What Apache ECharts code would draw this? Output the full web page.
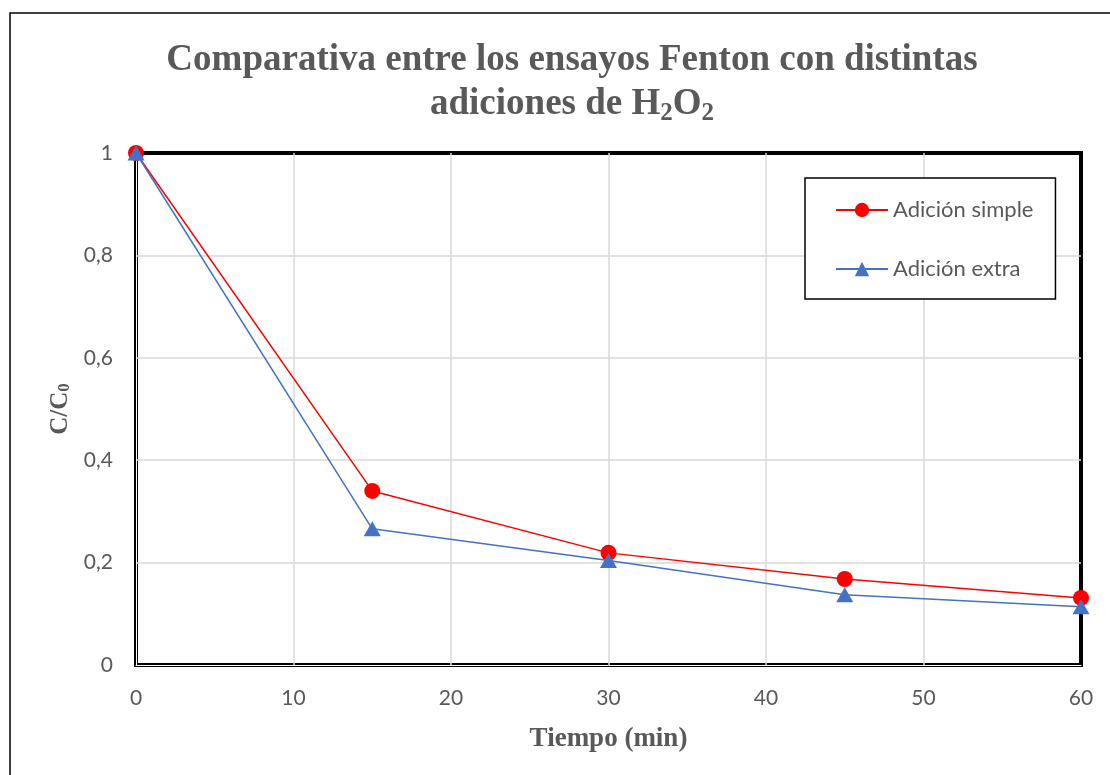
<!DOCTYPE html>
<html>
<head>
<meta charset="utf-8">
<script src="https://cdn.jsdelivr.net/npm/echarts@6/dist/echarts.min.js"></script>
<style>html,body{margin:0;padding:0;background:#fff}#c{width:1110px;height:775px}</style>
</head>
<body>
<div id="c"></div>
<script>
const tiempo = [0, 15, 30, 45, 60];
const simple = [1, 0.340, 0.219, 0.168, 0.131];
const extra = [1, 0.266, 0.204, 0.137, 0.114];
const seriesNames = ['Adición simple', 'Adición extra'];
const xTicks = [0, 10, 20, 30, 40, 50, 60];
const yTicks = [0, 0.2, 0.4, 0.6, 0.8, 1];

const chart = echarts.init(document.getElementById('c'));
const serif = 'Liberation Serif';
const sans = 'Lato';
const grey = '#595959';
const option = {
  animation: false,
  backgroundColor: '#fff',
  title: {
    text: 'Comparativa entre los ensayos Fenton con distintas\nadiciones de H{s|2}O{s|2}',
    left: 567,
    textAlign: 'center',
    top: 33,
    textStyle: {
      fontFamily: serif, fontWeight: 'bold', fontSize: 37, color: grey, lineHeight: 44,
      rich: { s: { fontFamily: serif, fontWeight: 'bold', fontSize: 25, color: grey, verticalAlign: 'bottom', lineHeight: 32 } }
    }
  },
  legend: {
    data: seriesNames,
    orient: 'vertical',
    left: 805, top: 178,
    width: 252,
    padding: [21, 22, 19, 30],
    itemGap: 37,
    itemWidth: 52, itemHeight: 18,
    borderColor: '#000', borderWidth: 1.5,
    backgroundColor: '#fff',
    textStyle: { fontFamily: sans, fontSize: 22, color: grey, lineHeight: 20 }
  },
  grid: {
    left: 136, right: 29, top: 153, bottom: 110,
    show: true, borderColor: '#000', borderWidth: 4
  },
  xAxis: {
    type: 'value', min: 0, max: 60, interval: 10,
    name: 'Tiempo (min)', nameLocation: 'middle', nameGap: 61,
    nameTextStyle: { fontFamily: serif, fontWeight: 'bold', fontSize: 27, color: grey },
    axisLine: { show: true, onZero: false, lineStyle: { color: '#fff', width: 1 } },
    axisTick: { show: false },
    axisLabel: { margin: 23, fontFamily: sans, fontSize: 21, color: grey, formatter: v => xTicks.includes(v) ? String(v) : '' },
    splitLine: { showMinLine: false, showMaxLine: false, lineStyle: { color: '#d9d9d9', width: 1.5 } }
  },
  yAxis: {
    type: 'value', min: 0, max: 1, interval: 0.2,
    name: 'C/C{s|0}', nameLocation: 'middle', nameGap: 58, nameRotate: 90,
    nameTextStyle: { fontFamily: serif, fontWeight: 'bold', fontSize: 25, color: grey,
      rich: { s: { fontFamily: serif, fontWeight: 'bold', fontSize: 17, color: grey, verticalAlign: 'bottom', lineHeight: 24 } } },
    axisLine: { show: true, onZero: false, lineStyle: { color: '#fff', width: 1 } },
    axisTick: { show: false },
    axisLabel: { margin: 23, fontFamily: sans, fontSize: 21, color: grey,
      formatter: v => { const t = yTicks.find(k => Math.abs(k - v) < 1e-9); return t === undefined ? '' : String(+t.toFixed(1)).replace('.', ','); } },
    splitLine: { showMinLine: false, showMaxLine: false, lineStyle: { color: '#d9d9d9', width: 1.5 } }
  },
  series: [
    { name: seriesNames[0], type: 'line', data: tiempo.map((t, i) => [t, simple[i]]),
      symbol: 'circle', symbolSize: 16, z: 3,
      lineStyle: { color: '#ff0000', width: 1.5 }, itemStyle: { color: '#ff0000' } },
    { name: seriesNames[1], type: 'line', data: tiempo.map((t, i) => [t, extra[i]]),
      symbol: 'triangle', symbolSize: [17, 15], z: 4,
      lineStyle: { color: '#4472c4', width: 1.5 }, itemStyle: { color: '#4472c4' } }
  ],
  graphic: [
    { type: 'rect', shape: { x: 10, y: 13, width: 1120, height: 800 }, style: { fill: 'none', stroke: '#000', lineWidth: 1.5 }, silent: true, z: -10 }
  ]
};
chart.setOption(option);
</script>
</body>
</html>
